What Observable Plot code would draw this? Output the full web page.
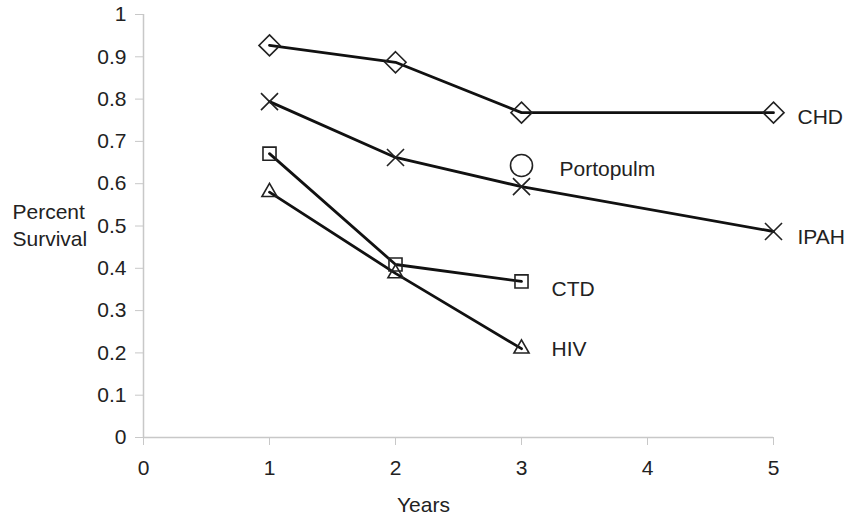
<!DOCTYPE html>
<html>
<head>
<meta charset="utf-8">
<script src="https://cdn.jsdelivr.net/npm/d3@7"></script>
<script src="https://cdn.jsdelivr.net/npm/@observablehq/plot@0.6"></script>
<style>
  html, body { margin: 0; padding: 0; background: #fff; }
  #chart { width: 847px; }
  #xlabel { width: 847px; height: 28px; line-height: 30px; text-align: center;
    font-family: "Liberation Sans", Arial, sans-serif; font-size: 21px; color: #222; }
</style>
</head>
<body>
<div id="chart"></div>
<div id="xlabel">Years</div>
<script>
// ---- data ----
const chdYears = [1, 2, 3, 5];
const chdValues = [0.927, 0.887, 0.768, 0.768];
const ipahYears = [1, 2, 3, 5];
const ipahValues = [0.794, 0.662, 0.593, 0.487];
const ctdYears = [1, 2, 3];
const ctdValues = [0.671, 0.409, 0.369];
const hivYears = [1, 2, 3];
const hivValues = [0.58, 0.388, 0.21];
const portoYears = [3];
const portoValues = [0.643];
const seriesNames = ["CHD", "IPAH", "CTD", "HIV", "Portopulm"];
const xTicks = [0, 1, 2, 3, 4, 5];
const yTicks = [0, 0.1, 0.2, 0.3, 0.4, 0.5, 0.6, 0.7, 0.8, 0.9, 1];
const yTickLabels = ["0", "0.1", "0.2", "0.3", "0.4", "0.5", "0.6", "0.7", "0.8", "0.9", "1"];

const toRows = (name, xs, ys) => xs.map((x, i) => ({series: name, year: x, value: ys[i]}));
const chd = toRows("CHD", chdYears, chdValues);
const ipah = toRows("IPAH", ipahYears, ipahValues);
const ctd = toRows("CTD", ctdYears, ctdValues);
const hiv = toRows("HIV", hivYears, hivValues);
const porto = toRows("Portopulm", portoYears, portoValues);
const lines = [...chd, ...ipah, ...ctd, ...hiv];
const last = rows => [rows[rows.length - 1]];

const axisGray = "#c8c8c8";
const ink = "#111";
const markInk = "#222";

const plot = Plot.plot({
  width: 847,
  height: 490,
  marginLeft: 143,
  marginRight: 74,
  marginTop: 14,
  marginBottom: 53,
  x: {domain: [0, 5]},
  y: {domain: [0, 1]},
  style: {fontFamily: "'Liberation Sans', Arial, sans-serif", fontSize: "21px", color: "#222", background: "#fff"},
  marks: [
    Plot.ruleY([0], {stroke: axisGray, strokeWidth: 1.5}),
    Plot.ruleX([0], {stroke: axisGray, strokeWidth: 1.5}),
    Plot.axisY({ticks: yTicks, tickFormat: d => yTickLabels[yTicks.indexOf(d)], tickSize: 8, tickPadding: 9,
      stroke: axisGray, fill: "#222", label: null}),
    Plot.axisX({ticks: xTicks, tickFormat: d => String(d), tickSize: 8, tickPadding: 15,
      stroke: axisGray, fill: "#222", label: null}),
    Plot.text(["Percent\nSurvival"], {frameAnchor: "left", textAnchor: "start", dx: -131, dy: -2, lineHeight: 1.3, fill: "#222"}),
    Plot.line(lines, {x: "year", y: "value", z: "series", stroke: ink, strokeWidth: 2.8}),
    Plot.dot(chd, {x: "year", y: "value", symbol: "diamond2", r: 9.5, stroke: markInk, strokeWidth: 1.6, fill: "none"}),
    Plot.dot(ipah, {x: "year", y: "value", symbol: "times", r: 7.8, stroke: markInk, strokeWidth: 1.6}),
    Plot.dot(ctd, {x: "year", y: "value", symbol: "square2", r: 8.3, stroke: markInk, strokeWidth: 1.6, fill: "none"}),
    Plot.dot(hiv, {x: "year", y: "value", symbol: "triangle2", r: 7.2, stroke: markInk, strokeWidth: 1.6, fill: "none"}),
    Plot.dot(porto, {x: "year", y: "value", symbol: "circle", r: 11, stroke: markInk, strokeWidth: 1.6, fill: "none"}),
    Plot.text(last(chd), {x: "year", y: "value", text: "series", textAnchor: "start", dx: 24, dy: 5, fill: "#222"}),
    Plot.text(last(ipah), {x: "year", y: "value", text: "series", textAnchor: "start", dx: 24, dy: 6, fill: "#222"}),
    Plot.text(porto, {x: "year", y: "value", text: "series", textAnchor: "start", dx: 38, dy: 4, fill: "#222"}),
    Plot.text(last(ctd), {x: "year", y: "value", text: "series", textAnchor: "start", dx: 30, dy: 8, fill: "#222"}),
    Plot.text(last(hiv), {x: "year", y: "value", text: "series", textAnchor: "start", dx: 30, dy: 1, fill: "#222"})
  ]
});
document.getElementById("chart").appendChild(plot);
</script>
</body>
</html>
